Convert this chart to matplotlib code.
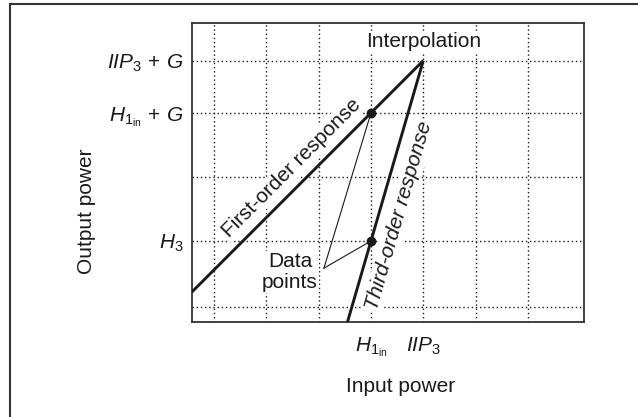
import numpy as np
import matplotlib.pyplot as plt
from matplotlib.patches import Rectangle

plt.rcParams['font.family'] = ['Liberation Sans', 'DejaVu Sans']
plt.rcParams['mathtext.fontset'] = 'custom'
plt.rcParams['mathtext.rm'] = 'Liberation Sans'
plt.rcParams['mathtext.it'] = 'Liberation Sans:italic'
plt.rcParams['mathtext.bf'] = 'Liberation Sans:bold'

# values in arbitrary dB-like units
iip3 = 40.0          # input third-order intercept
gain = 10.0          # G
h1_in = 30.0         # input level of the measured fundamental
h3 = 15.5            # measured third-order output
third_slope = (iip3 + gain - h3) / (iip3 - h1_in)

x_grid = [0, 10, 20, 30, 40, 50, 60]
y_grid = [2.8, 15.5, 27.8, 40, 50]
x_ticks = [h1_in, iip3]
x_ticklabels = [r'$H_{1_{\mathrm{in}}}$', r'$IIP_3$']
y_ticks = [h3, h1_in + gain, iip3 + gain]
y_ticklabels = [r'$H_3$', r'$H_{1_{\mathrm{in}}}\,+\,G$', r'$IIP_3\,+\,G$']
apex = (21.0, 10.3)  # where the "Data points" pointers meet

xlim = (-4.3, 70.7)
ylim = (0, 57.26)
FS = 15
INK = '#1a1a1a'

fig = plt.figure(figsize=(6.38, 4.17), dpi=100)
ax = fig.add_axes([191.7 / 638, 1 - 322 / 417, 392 / 638, 299.3 / 417])
ax.set_xlim(*xlim)
ax.set_ylim(*ylim)

for x in x_grid:
    ax.axvline(x, color=INK, lw=1.0, ls=(0, (1, 2)), zorder=1)
for y in y_grid:
    ax.axhline(y, color=INK, lw=1.0, ls=(0, (1, 2)), zorder=1)

# first-order response: slope 1
x1 = np.array([xlim[0], iip3])
ax.plot(x1, x1 + gain, color=INK, lw=2.1, solid_capstyle='butt', zorder=3)
# third-order response
x0 = iip3 - (iip3 + gain) / third_slope
x3 = np.array([x0, iip3])
ax.plot(x3, third_slope * (x3 - iip3) + iip3 + gain, color=INK, lw=2.1,
        solid_capstyle='butt', zorder=3)

# pointers and data points
pts_x = [h1_in, h1_in]
pts_y = [h1_in + gain, h3]
for px, py in zip(pts_x, pts_y):
    ax.plot([apex[0], px], [apex[1], py], color=INK, lw=0.8, zorder=3)
ax.plot(pts_x, pts_y, 'o', color=INK, ms=6, zorder=4)


def screen_angle(slope):
    p = ax.transData.transform([(0, 0), (1, slope)])
    return np.degrees(np.arctan2(p[1, 1] - p[0, 1], p[1, 0] - p[0, 0]))


white = dict(facecolor='white', edgecolor='none', pad=1)
ax.text(14.8, 29.4, 'First-order response', rotation=screen_angle(1.0),
        ha='center', va='center', rotation_mode='anchor', fontsize=FS,
        color=INK, bbox=white, zorder=2)
ax.text(35.3, 20.3, 'Third-order response', rotation=screen_angle(third_slope),
        ha='center', va='center', rotation_mode='anchor', fontsize=FS,
        style='italic', color=INK, bbox=white, zorder=2)
ax.text(14.5, 9.6, 'Data\npoints', ha='center', va='center', fontsize=FS,
        color=INK, linespacing=1.1, bbox=white, zorder=2)
ax.text(iip3, 53.6, 'Interpolation', ha='center', va='center', fontsize=FS,
        color=INK, bbox=white, zorder=2)

ax.set_xticks(x_ticks)
ax.set_xticklabels(x_ticklabels)
ax.set_yticks(y_ticks)
ax.set_yticklabels(y_ticklabels)
ax.tick_params(length=0, labelsize=FS, colors=INK)
ax.tick_params(axis='x', pad=10)
ax.tick_params(axis='y', pad=6)
for s in ax.spines.values():
    s.set_linewidth(1.3)
    s.set_color('#333333')

fig.text(87 / 638, 1 - 211.5 / 417, 'Output power', rotation=90, ha='center',
         va='center', fontsize=FS, color=INK)
fig.text(401 / 638, 1 - 387 / 417, 'Input power', ha='center', va='center',
         fontsize=FS, color=INK)

fig.patches.append(Rectangle((9.5 / 638, -0.1), 1.2, 1.1 - 4.5 / 417,
                             transform=fig.transFigure, fill=False,
                             lw=1.5, edgecolor='#333333'))

fig.savefig('out.png', dpi=100)
